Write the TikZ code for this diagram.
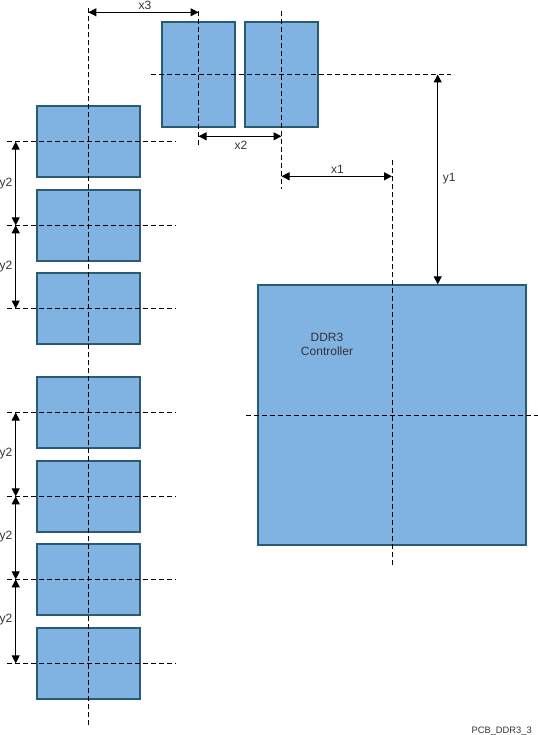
\documentclass[tikz,border=0pt]{standalone}
\usepackage{fontspec}
\setmainfont{Liberation Sans}
\usetikzlibrary{arrows.meta}
\definecolor{chipfill}{RGB}{128,179,226}
\definecolor{chipline}{RGB}{41,91,115}

\begin{document}
\begin{tikzpicture}[x=0.75pt,y=-0.75pt]
        \tikzstyle{every node}=[font=\fontsize{9}{10.5}\selectfont, text=black!80, inner sep=0pt]
        \tikzstyle{chip}=[draw=chipline, fill=chipfill, line width=1.5pt, minimum width=77.5pt, minimum height=53.5pt]
        \tikzstyle{topchip}=[chip, minimum width=54.4pt, minimum height=78pt]
        \tikzstyle{axis}=[dash pattern=on 3.75pt off 2.25pt, line width=0.75pt]
        \tikzstyle{dim}=[{Triangle[length=6pt,width=6pt]}-{Triangle[length=6pt,width=6pt]}, line width=0.75pt]

        \useasboundingbox (0,0) rectangle (538,735);

        % memory devices
        \node[topchip] (t1) at (198.5,74.5) {};
        \node[topchip] (t2) at (281.5,74.5) {};
        \node[chip] (m1) at (88.7,141.7) {};
        \node[chip] (m2) at (88.7,225.3) {};
        \node[chip] (m3) at (88.7,308.5) {};
        \node[chip] (m4) at (88.7,412.5) {};
        \node[chip] (m5) at (88.7,496.3) {};
        \node[chip] (m6) at (88.7,579.3) {};
        \node[chip] (m7) at (88.7,663.3) {};

        % controller
        \node[chip, minimum width=201.5pt, minimum height=194.8pt] (ctrl) at (392,415.2) {};
        \node[align=center] (ctrllbl) at (327,344) {DDR3\\Controller};

        % center lines
        \coordinate (vtop) at (88.3,8);
        \coordinate (vbot) at (88.3,727);
        \draw[axis] (vtop) -- (vbot);
        \draw[axis] ([xshift=-21.75pt]m1.west) -- ([xshift=25.3pt]m1.east);
        \draw[axis] ([xshift=-21.75pt]m2.west) -- ([xshift=25.3pt]m2.east);
        \draw[axis] ([xshift=-21.75pt]m3.west) -- ([xshift=25.3pt]m3.east);
        \draw[axis] ([xshift=-21.75pt]m4.west) -- ([xshift=25.3pt]m4.east);
        \draw[axis] ([xshift=-21.75pt]m5.west) -- ([xshift=25.3pt]m5.east);
        \draw[axis] ([xshift=-21.75pt]m6.west) -- ([xshift=25.3pt]m6.east);
        \draw[axis] ([xshift=-21.75pt]m7.west) -- ([xshift=25.3pt]m7.east);
        \draw[axis] ([yshift=7.5pt]t1.north) -- ([yshift=-14.5pt]t1.south);
        \draw[axis] ([yshift=8pt]t2.north) -- ([yshift=-46pt]t2.south);
        \draw[axis] ([xshift=-7.5pt]t1.west) -- ([xshift=99pt]t2.east);
        \draw[axis] ([yshift=93pt]ctrl.north) -- ([yshift=-15pt]ctrl.south);
        \draw[axis] ([xshift=-8pt]ctrl.west) -- ([xshift=9pt]ctrl.east);

        % dimensions
        \coordinate (x3y) at (0,12.3);
        \coordinate (x2y) at (0,136.3);
        \coordinate (x1y) at (0,176.3);
        \coordinate (y1x) at (437.7,0);
        \coordinate (y2x) at (15.7,0);
        \draw[dim] (vtop |- x3y) -- (t1 |- x3y);
        \draw[dim] (t1 |- x2y) -- (t2 |- x2y);
        \draw[dim] (t2 |- x1y) -- (ctrl |- x1y);
        \draw[dim] (y1x |- t1) -- (y1x |- ctrl.north);
        \draw[dim] (m1 -| y2x) -- (m2 -| y2x);
        \draw[dim] (m2 -| y2x) -- (m3 -| y2x);
        \draw[dim] (m4 -| y2x) -- (m5 -| y2x);
        \draw[dim] (m5 -| y2x) -- (m6 -| y2x);
        \draw[dim] (m6 -| y2x) -- (m7 -| y2x);

        \node (x3lbl) at (145,5) {x3};
        \node (x2lbl) at (241,145) {x2};
        \node (x1lbl) at (337.5,169.5) {x1};
        \node (y1lbl) at (449.3,178.3) {y1};
        \node (y2lbla) at (6,183.3) {y2};
        \node (y2lblb) at (6,266.7) {y2};
        \node (y2lblc) at (6,454) {y2};
        \node (y2lbld) at (6,536.7) {y2};
        \node (y2lble) at (6,620) {y2};

        \node[font=\fontsize{7}{8}\selectfont, anchor=base east] (figid) at (532,733) {PCB\_DDR3\_3};
    \end{tikzpicture}
\end{document}
